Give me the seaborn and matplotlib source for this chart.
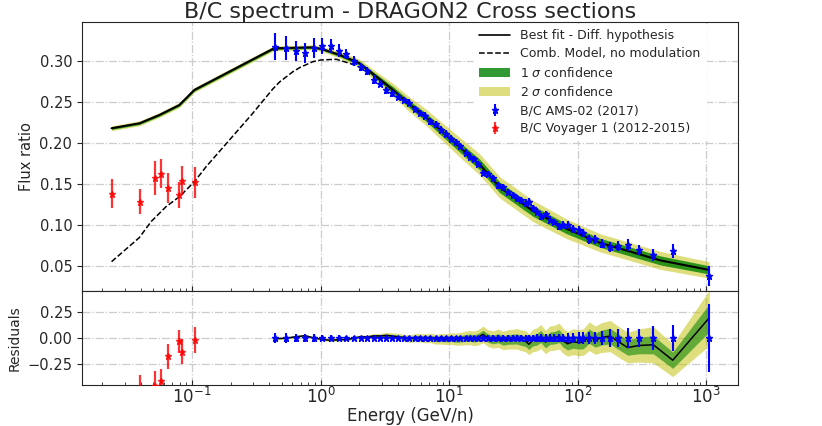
import numpy as np
import matplotlib
matplotlib.use("Agg")
import matplotlib.pyplot as plt
import seaborn as sns

# Best fit (diffusion hypothesis) and its confidence bands
e_model = [0.0236, 0.039, 0.0556, 0.0796, 0.104, 0.2, 0.433, 0.87, 1.02, 1.41,
           2.01, 2.72, 3.66, 4.94, 6.67, 8.98, 12.1, 17.3, 24.8, 45.2,
           82.2, 149, 241, 439, 1060]
bc_model = [0.2176, 0.2237, 0.2338, 0.246, 0.2643, 0.2876, 0.3151, 0.3163, 0.3143, 0.307,
            0.2968, 0.2805, 0.2643, 0.2465, 0.2305, 0.2125, 0.1945, 0.1735, 0.1455, 0.1165,
            0.0950, 0.0780, 0.0685, 0.0565, 0.0448]
sig2_model = [0.003, 0.003, 0.003, 0.003, 0.003, 0.003, 0.003, 0.003, 0.003, 0.004,
              0.005, 0.006, 0.008, 0.009, 0.010, 0.011, 0.012, 0.013, 0.013, 0.013,
              0.012, 0.011, 0.011, 0.011, 0.010]
sig1_model = [0.0015, 0.0015, 0.0015, 0.0015, 0.0015, 0.0015, 0.0015, 0.0015, 0.0015, 0.002,
              0.0025, 0.003, 0.004, 0.0045, 0.005, 0.0055, 0.006, 0.0065, 0.0065, 0.0065,
              0.006, 0.0055, 0.0055, 0.0055, 0.005]

# Combined model without solar modulation
e_comb = [0.0236, 0.0388, 0.0479, 0.0627, 0.0796, 0.1042, 0.1285, 0.1953, 0.2967, 0.3346,
          0.4248, 0.4791, 0.6082, 0.686, 0.871, 1.013, 1.326, 1.683, 2.014, 2.72]
bc_comb = [0.0549, 0.0842, 0.1037, 0.122, 0.1341, 0.1524, 0.1707, 0.2033, 0.2359, 0.2459,
           0.2655, 0.2740, 0.2865, 0.2915, 0.2988, 0.3009, 0.3017, 0.2968, 0.292, 0.2805]

# AMS-02 (2017)
e_ams = [0.438, 0.534, 0.638, 0.760, 0.887, 1.031, 1.197, 1.381, 1.586, 1.817,
         2.050, 2.296, 2.603, 2.884, 3.252, 3.622, 4.005, 4.436, 4.878, 5.404,
         5.911, 6.465, 7.161, 7.878, 8.727, 9.544, 10.31, 11.28, 12.12, 13.50,
         14.50, 15.66, 16.83, 18.41, 20.14, 22.03, 24.10, 26.36, 28.84, 31.19,
         33.50, 36.02, 39.40, 41.79, 44.66, 47.98, 51.84, 56.39, 60.94, 65.48,
         71.98, 77.37, 83.75, 92.53, 102.0, 110.8, 123.3, 137.3, 154.1, 178.9,
         207.7, 245.8, 301.1, 389.3, 551.2, 1062]
bc_ams = [0.317, 0.316, 0.312, 0.309, 0.316, 0.318, 0.318, 0.312, 0.308, 0.300,
          0.292, 0.287, 0.277, 0.272, 0.264, 0.260, 0.256, 0.252, 0.249, 0.241,
          0.236, 0.233, 0.226, 0.223, 0.216, 0.211, 0.205, 0.201, 0.196, 0.188,
          0.183, 0.180, 0.174, 0.163, 0.162, 0.157, 0.148, 0.146, 0.140, 0.136,
          0.132, 0.130, 0.127, 0.128, 0.120, 0.116, 0.110, 0.113, 0.106, 0.103,
          0.098, 0.100, 0.100, 0.095, 0.093, 0.090, 0.082, 0.082, 0.077, 0.073,
          0.074, 0.075, 0.069, 0.063, 0.068, 0.0375]
err_ams = [0.0163, 0.0146, 0.0126, 0.0122, 0.0122, 0.0095, 0.0087, 0.008, 0.0065, 0.006,
           0.005, 0.005, 0.005, 0.0045, 0.0045, 0.0045, 0.004, 0.004, 0.004, 0.004,
           0.004, 0.004, 0.004, 0.004, 0.004, 0.004, 0.004, 0.004, 0.004, 0.004,
           0.004, 0.004, 0.004, 0.004, 0.004, 0.004, 0.004, 0.004, 0.004, 0.004,
           0.004, 0.004, 0.004, 0.004, 0.004, 0.004, 0.004, 0.004, 0.004, 0.004,
           0.004, 0.004, 0.0045, 0.0045, 0.005, 0.005, 0.005, 0.005, 0.0055, 0.006,
           0.0065, 0.007, 0.006, 0.007, 0.0087, 0.0122]

# Voyager 1 (2012-2015)
e_voy = [0.0236, 0.039, 0.0515, 0.0573, 0.0653, 0.0792, 0.084, 0.1055]
bc_voy = [0.138, 0.128, 0.1566, 0.1622, 0.145, 0.1362, 0.1537, 0.1517]
err_voy = [0.018, 0.0155, 0.021, 0.018, 0.018, 0.0155, 0.018, 0.019]
res_voy = [-0.62, -0.48, -0.46, -0.41, -0.176, -0.03, -0.13, -0.02]
res_voy_err = [0.10, 0.12, 0.14, 0.11, 0.12, 0.11, 0.12, 0.125]

sns.set_style("ticks")
plt.rcParams['font.family'] = ['DejaVu Sans']

fig = plt.figure(figsize=(8.22, 4.26), dpi=100)
gs = fig.add_gridspec(2, 1, height_ratios=[269, 94], hspace=0,
                      left=0.0998, right=0.8978, top=0.9484, bottom=0.0962)
ax = fig.add_subplot(gs[0])
axr = fig.add_subplot(gs[1], sharex=ax)

grid_kw = dict(ls='-.', color='#cccccc', lw=0.9)

# ---- main panel
lo2 = np.array(bc_model) - np.array(sig2_model)
hi2 = np.array(bc_model) + np.array(sig2_model)
lo1 = np.array(bc_model) - np.array(sig1_model)
hi1 = np.array(bc_model) + np.array(sig1_model)
h2 = ax.fill_between(e_model, lo2, hi2, color='y', alpha=0.5, lw=0, zorder=2)
h1 = ax.fill_between(e_model, lo1, hi1, color='g', alpha=0.8, lw=0, zorder=3)
sns.lineplot(x=e_model, y=bc_model, ax=ax, color='k', lw=1.5, zorder=5,
             estimator=None, sort=False)
sns.lineplot(x=e_comb, y=bc_comb, ax=ax, color='k', lw=1.1, ls='--', zorder=4,
             estimator=None, sort=False)
hams = ax.errorbar(e_ams, bc_ams, yerr=err_ams, fmt='*', color='blue', ms=4.5,
                   elinewidth=1.5, capsize=0, zorder=6)
hvoy = ax.errorbar(e_voy, bc_voy, yerr=err_voy, fmt='*', color='red', ms=5,
                   elinewidth=1.6, capsize=0, alpha=0.8, zorder=6)

ax.set_xscale('log')
ax.set_xlim(0.0139, 1775)
ax.set_ylim(0.0191, 0.3472)
ax.set_yticks([0.05, 0.10, 0.15, 0.20, 0.25, 0.30])
ax.set_yticklabels(['0.05', '0.10', '0.15', '0.20', '0.25', '0.30'])
ax.grid(True, which='major', **grid_kw)
ax.tick_params(axis='x', which='both', labelbottom=False, direction='in')
ax.tick_params(axis='y', labelsize=10.5)
ax.set_ylabel('Flux ratio', fontsize=10.5)
ax.set_title('B/C spectrum - DRAGON2 Cross sections', fontsize=16, pad=3)

hfit = plt.Line2D([], [], color='k', lw=1.2)
hcomb = plt.Line2D([], [], color='k', lw=1.1, ls='--')
ax.legend([hfit, hcomb, h1, h2, hams, hvoy],
          ['Best fit - Diff. hypothesis', 'Comb. Model, no modulation',
           r'1 $\sigma$ confidence', r'2 $\sigma$ confidence',
           'B/C AMS-02 (2017)', 'B/C Voyager 1 (2012-2015)'],
          loc='upper right', bbox_to_anchor=(0.96, 1.015), fontsize=9,
          frameon=True, facecolor='white', edgecolor='white', framealpha=1,
          fancybox=False, labelspacing=0.42, handlelength=2.5)

# ---- residual panel
lg_ams = np.log10(e_ams)
lg_mod = np.log10(e_model)
bc_ams_a = np.array(bc_ams)
mod_at = np.interp(lg_ams, lg_mod, bc_model)
s1_at = np.interp(lg_ams, lg_mod, sig1_model)
s2_at = np.interp(lg_ams, lg_mod, sig2_model)
res_fit = (mod_at - bc_ams_a) / bc_ams_a

axr.fill_between(e_ams, res_fit - s2_at / bc_ams_a, res_fit + s2_at / bc_ams_a,
                 color='y', alpha=0.5, lw=0, zorder=2)
axr.fill_between(e_ams, res_fit - s1_at / bc_ams_a, res_fit + s1_at / bc_ams_a,
                 color='g', alpha=0.55, lw=0, zorder=3)
sns.lineplot(x=e_ams, y=res_fit, ax=axr, color='k', lw=1.1, zorder=5,
             estimator=None, sort=False)
axr.errorbar(e_ams, np.zeros(len(e_ams)), yerr=np.array(err_ams) / bc_ams_a,
             fmt='*', color='blue', ms=4.5, elinewidth=1.5, capsize=0, zorder=6)
axr.errorbar(e_voy, res_voy, yerr=res_voy_err, fmt='*', color='red', ms=5,
             elinewidth=1.6, capsize=0, alpha=0.8, zorder=6)

axr.set_ylim(-0.452, 0.452)
axr.set_yticks([-0.25, 0.0, 0.25])
axr.set_yticklabels(['\u22120.25', '0.00', '0.25'])
axr.grid(True, which='major', **grid_kw)
axr.tick_params(axis='x', which='both', direction='in', labelsize=12, pad=1.5)
axr.tick_params(axis='y', labelsize=10.5)
axr.set_ylabel('Residuals', fontsize=10)
axr.set_xlabel('Energy (GeV/n)', fontsize=12, labelpad=0)

fig.savefig('out.png', dpi=100)
